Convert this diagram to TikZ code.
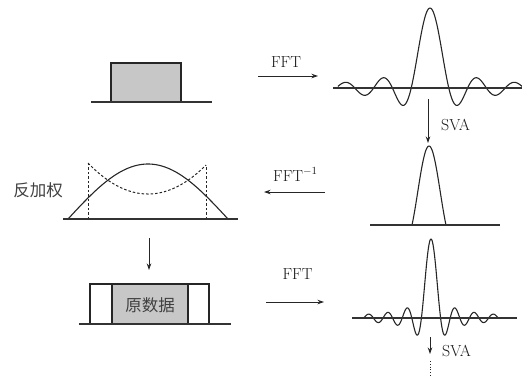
\documentclass[tikz,border=0pt]{standalone}
\usepackage{fontspec}
\newfontfamily\cjk{Noto Sans CJK SC}
\usetikzlibrary{arrows.meta}
\tikzset{
  lbl/.style={font=\fontsize{16}{19}\selectfont, inner sep=0pt, text=black!90},
  cjklbl/.style={font=\cjk\fontsize{16.5}{19}\selectfont, inner sep=0pt, text=black!75},
  arr/.style={draw=black!85, line width=0.9pt, -{Stealth[length=6.5pt,width=4.5pt]}},
  base/.style={draw=black!80, line width=1.4pt},
  curve/.style={draw=black!85, line width=1.1pt},
  dashcurve/.style={draw=black!85, line width=1.0pt, dash pattern=on 2.5pt off 2pt},
  boxfill/.style={fill=black!22, draw=black!85, line width=1.1pt},
  declare function={sinc(\t)=sin(deg(pi*\t))/(pi*\t);}
}
\begin{document}
\begin{tikzpicture}[x=1pt,y=-1pt]
\useasboundingbox (0,0) rectangle (522,376);

% ---------- top left: rectangle pulse
\filldraw[boxfill] (111,102) rectangle (181,63);
\draw[base] (91,102) -- (212,102);

% ---------- top FFT arrow
\coordinate (fa1) at (258,76);
\coordinate (fb1) at (318,76);
\draw[arr] (fa1) -- (fb1);
\node[lbl, anchor=base] (fft1) at (286,67) {FFT};

% ---------- top right: sinc
\draw[curve] plot[domain=-4.9:4.9, samples=300, smooth] ({430+18.8*\x},{88-80*sinc(\x)});
\draw[base] (333,88) -- (522,88);

% ---------- SVA 1
\coordinate (sa1) at (428,99);
\coordinate (sb1) at (428,143);
\draw[arr] (sa1) -- (sb1);
\node[lbl, anchor=base west] (sva1) at (441,130) {SVA};

% ---------- middle right: main lobe only
\draw[curve] plot[domain=-1:1, samples=100, smooth] ({429+17*\x},{225-79*sinc(\x)});
\draw[base] (370,225) -- (500,225);

% ---------- FFT^-1 arrow
\coordinate (fa2) at (325,192);
\coordinate (fb2) at (264,192);
\draw[arr] (fa2) -- (fb2);
\node[lbl, anchor=base west] (fft2) at (273,181) {FFT$^{-1}$};

% ---------- middle left: weighting
\draw[curve] plot[domain=0:1, samples=100, smooth] ({68+160*\x},{219-55*sin(180*\x)});
\draw[dashcurve] (88,219) -- (88,163);
\draw[dashcurve] (206,219) -- (206,165);
\draw[dashcurve] plot[domain=88:206, samples=80, smooth] (\x,{219-(25+31/3600*(\x-148)*(\x-148))});
\draw[base] (63,219) -- (238,219);
\node[cjklbl] (inv) at (38,190) {反加权};

% ---------- down arrow left
\coordinate (da) at (149,238);
\coordinate (db) at (149,270);
\draw[arr] (da) -- (db);

% ---------- bottom left: original data
\draw[draw=black!85, line width=1.1pt] (90,324) -- (90,284) -- (209,284) -- (209,324);
\filldraw[boxfill] (112,324) rectangle (188,284);
\draw[base] (79,324) -- (231,324);
\node[cjklbl] (orig) at (150,305) {原数据};

% ---------- bottom FFT arrow
\coordinate (fa3) at (266,302);
\coordinate (fb3) at (324,302);
\draw[arr] (fa3) -- (fb3);
\node[lbl, anchor=base] (fft3) at (297.5,279) {FFT};

% ---------- bottom right: narrow sinc
\draw[curve] plot[domain=-7:7, samples=400, smooth] ({431+9.6*\x},{318-79*sinc(\x)});
\draw[base] (352,318) -- (517,318);

% ---------- SVA 2
\coordinate (sa2) at (430,337);
\coordinate (sb2) at (430,354);
\draw[arr] (sa2) -- (sb2);
\node[lbl, anchor=base west] (sva2) at (442,356) {SVA};
\coordinate (dt1) at (430,361);
\coordinate (dt2) at (430,376);
\draw[draw=black!85, line width=1pt, dash pattern=on 1pt off 1.8pt] (dt1) -- (dt2);
\end{tikzpicture}
\end{document}
